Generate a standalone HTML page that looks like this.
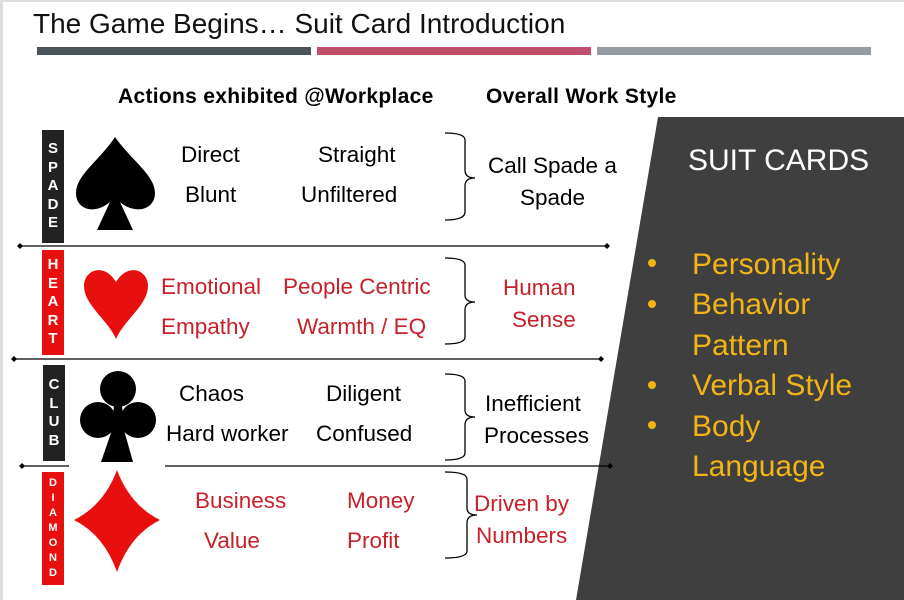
<!DOCTYPE html>
<html><head><meta charset="utf-8"><style>
body{margin:0;width:904px;height:600px;background:#fff;position:relative;overflow:hidden;font-family:"Liberation Sans",sans-serif}
.t{position:absolute;white-space:nowrap;line-height:1}
.lab{position:absolute;width:22px;color:#fff;font-weight:bold;text-align:center;font-size:15px;line-height:18.5px;display:flex;flex-direction:column;justify-content:center}
.r{color:#c8202a}
.y{color:#f2b516;position:absolute;font-size:30px;line-height:1;white-space:nowrap}
.d{position:absolute;width:8px;height:8px;border-radius:50%;background:#f2b516}
</style></head><body>
<div style="position:absolute;left:0;top:0;width:3px;height:600px;background:#ddd"></div>
<div style="position:absolute;left:0;top:0;width:904px;height:2px;background:#ddd"></div>
<div class="t" style="left:33px;top:10px;font-size:28px;color:#111">The Game Begins… Suit Card Introduction</div>
<div style="position:absolute;left:37px;top:47px;width:274px;height:8px;background:#4a545a"></div>
<div style="position:absolute;left:317px;top:47px;width:274px;height:8px;background:#bf4f6a"></div>
<div style="position:absolute;left:597px;top:47px;width:274px;height:8px;background:#959ca3"></div>
<div class="t" style="left:118px;top:86px;font-size:21px;font-weight:bold;letter-spacing:0.3px">Actions exhibited @Workplace</div>
<div class="t" style="left:486px;top:86px;font-size:21px;font-weight:bold;letter-spacing:0.3px">Overall Work Style</div>
<svg width="904" height="600" style="position:absolute;left:0;top:0">
<polygon points="658,117 904,117 904,600 576,600" fill="#3f3f3f"/>
<g stroke="#000" stroke-width="1.3" fill="none">
<line x1="20" y1="246" x2="607" y2="246"/><line x1="14" y1="359" x2="601" y2="359"/>
<line x1="20" y1="466" x2="69" y2="466"/><line x1="165" y1="466" x2="610" y2="466"/>
<path d="M445,133 Q465,133 465,140 L465,170 Q465,178 475,178 Q465,178 465,186 L465,212 Q465,220 445,220"/>
<path d="M445,258 Q465,258 465,265 L465,295 Q465,302 475,302 Q465,302 465,310 L465,337 Q465,344 445,344"/>
<path d="M445,374 Q465,374 465,381 L465,410 Q465,417 475,417 Q465,417 465,425 L465,453 Q465,460 445,460"/>
<path d="M445,472 Q467,472 467,479 L467,508 Q467,515 477,515 Q467,515 467,523 L467,551 Q467,558 445,558"/>
</g>
<g fill="#000">
<path d="M20,243 l3,3 l-3,3 l-3,-3z"/><path d="M607,243 l3,3 l-3,3 l-3,-3z"/>
<path d="M14,356 l3,3 l-3,3 l-3,-3z"/><path d="M601,356 l3,3 l-3,3 l-3,-3z"/>
<path d="M22,463 l3,3 l-3,3 l-3,-3z"/><path d="M610,463 l3,3 l-3,3 l-3,-3z"/>
<path d="M115,137 C100,160 76,175 76,193 C76,210 95,215 110,202 L97,230 L133,230 L120,202 C135,215 155,210 155,193 C155,175 131,160 115,137Z"/>
<circle cx="118" cy="389" r="18"/><circle cx="98" cy="420" r="18"/><circle cx="138" cy="420" r="18"/>
<path d="M114,405 L122,405 L124,430 L133,462 L101,462 L112,430Z"/>
</g>
<path fill="#e8100f" d="M116,339 C108,320 84,305 84,286 C84,270 104,262 116,282 C128,262 148,270 148,286 C148,305 124,320 116,339Z"/>
<path fill="#e8100f" d="M117,470 Q130,505 160,520 Q130,535 117,572 Q104,535 74,520 Q104,505 117,470Z"/>
</svg>
<div class="lab" style="left:42px;top:130px;height:113px;background:#222">S<br>P<br>A<br>D<br>E</div>
<div class="lab" style="left:42px;top:250px;height:105px;background:#e8100f">H<br>E<br>A<br>R<br>T</div>
<div class="lab" style="left:43px;top:365px;height:96px;background:#222">C<br>L<br>U<br>B</div>
<div class="lab" style="left:42px;top:472px;height:113px;background:#e8100f;font-size:11px;line-height:15px">D<br>I<br>A<br>M<br>O<br>N<br>D</div>
<div style="font-size:22.5px">
<div class="t" style="left:181px;top:144px">Direct</div>
<div class="t" style="left:318px;top:144px">Straight</div>
<div class="t" style="left:185px;top:184px">Blunt</div>
<div class="t" style="left:301px;top:184px">Unfiltered</div>
<div class="t" style="left:488px;top:155px">Call Spade a</div>
<div class="t" style="left:520px;top:187px">Spade</div>
<div class="t r" style="left:161px;top:276px">Emotional</div>
<div class="t r" style="left:283px;top:276px">People Centric</div>
<div class="t r" style="left:161px;top:316px">Empathy</div>
<div class="t r" style="left:297px;top:316px">Warmth / EQ</div>
<div class="t r" style="left:503px;top:277px">Human</div>
<div class="t r" style="left:512px;top:309px">Sense</div>
<div class="t" style="left:179px;top:383px">Chaos</div>
<div class="t" style="left:326px;top:383px">Diligent</div>
<div class="t" style="left:166px;top:423px">Hard worker</div>
<div class="t" style="left:316px;top:423px">Confused</div>
<div class="t" style="left:485px;top:393px">Inefficient</div>
<div class="t" style="left:484px;top:425px">Processes</div>
<div class="t r" style="left:195px;top:490px">Business</div>
<div class="t r" style="left:347px;top:490px">Money</div>
<div class="t r" style="left:204px;top:530px">Value</div>
<div class="t r" style="left:347px;top:530px">Profit</div>
<div class="t r" style="left:474px;top:493px">Driven by</div>
<div class="t r" style="left:476px;top:525px">Numbers</div>
</div>
<div class="t" style="left:688px;top:146px;font-size:30px;color:#fff">SUIT CARDS</div>
<div class="d" style="left:648px;top:259px"></div>
<div class="d" style="left:648px;top:300px"></div>
<div class="d" style="left:648px;top:381px"></div>
<div class="d" style="left:648px;top:421px"></div>
<div class="y" style="left:692px;top:250px">Personality</div>
<div class="y" style="left:692px;top:290px">Behavior</div>
<div class="y" style="left:692px;top:331px">Pattern</div>
<div class="y" style="left:692px;top:371px">Verbal Style</div>
<div class="y" style="left:692px;top:412px">Body</div>
<div class="y" style="left:692px;top:452px">Language</div>
</body></html>
